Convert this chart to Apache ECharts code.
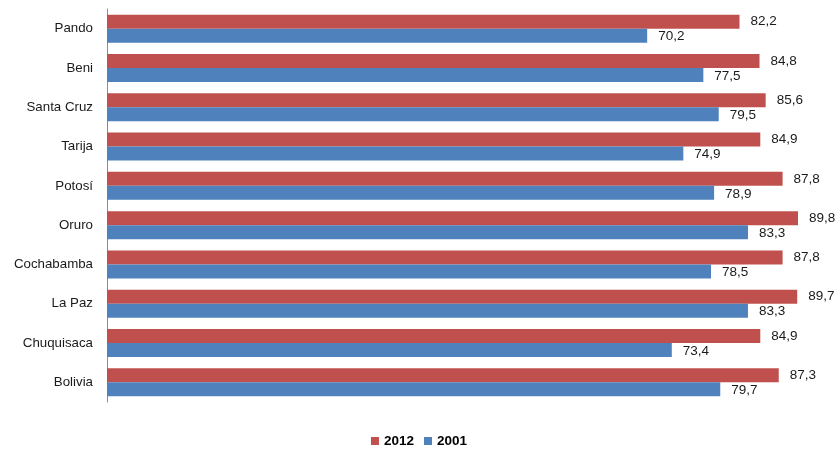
<!DOCTYPE html>
<html><head><meta charset="utf-8">
<script src="https://cdn.jsdelivr.net/npm/echarts@6/dist/echarts.min.js"></script>
<style>html,body{margin:0;padding:0;background:#fff}#c{width:838px;height:450px}</style>
</head><body><div id="c"></div>
<script>
const categories = ['Pando','Beni','Santa Cruz','Tarija','Potosí','Oruro','Cochabamba','La Paz','Chuquisaca','Bolivia'];
const values2012 = [82.2,84.8,85.6,84.9,87.8,89.8,87.8,89.7,84.9,87.3];
const values2001 = [70.2,77.5,79.5,74.9,78.9,83.3,78.5,83.3,73.4,79.7];
const seriesNames = ['2012','2001'];

const chart = echarts.init(document.getElementById('c'), null, {renderer:'canvas'});
const fmt = p => p.value.toFixed(1).replace('.', ',');
const lbl = {show:true, position:'right', distance:11, formatter:fmt, color:'#1a1a1a', fontFamily:'Liberation Sans, Arial', fontSize:13.5};
chart.setOption({
  animation:false,
  grid:{left:107, right:0, top:9, bottom:48, containLabel:false},
  legend:{top:429, left:'center', itemWidth:8, itemHeight:8, itemGap:10, icon:'rect',
    textStyle:{fontFamily:'Liberation Sans, Arial', fontSize:13.5, fontWeight:'bold', color:'#000'},
    data:seriesNames},
  xAxis:{type:'value', min:0, max:95, show:false},
  yAxis:{type:'category', data:categories, inverse:true,
    axisLine:{show:true, lineStyle:{color:'#8c8c8c', width:1}},
    axisTick:{show:false},
    axisLabel:{fontFamily:'Liberation Sans, Arial', fontSize:13.3, color:'#1a1a1a', margin:14},
    splitLine:{show:false}},
  series:[
    {name:seriesNames[0], type:'bar', data:values2012, barWidth:14, barGap:'0%', barCategoryGap:'29%',
     itemStyle:{color:'#C0504D'}, label:Object.assign({}, lbl, {offset:[0,0]})},
    {name:seriesNames[1], type:'bar', data:values2001, barWidth:14, barGap:'0%',
     itemStyle:{color:'#4F81BD'}, label:Object.assign({}, lbl, {offset:[0,1]})}
  ]
});
</script></body></html>
